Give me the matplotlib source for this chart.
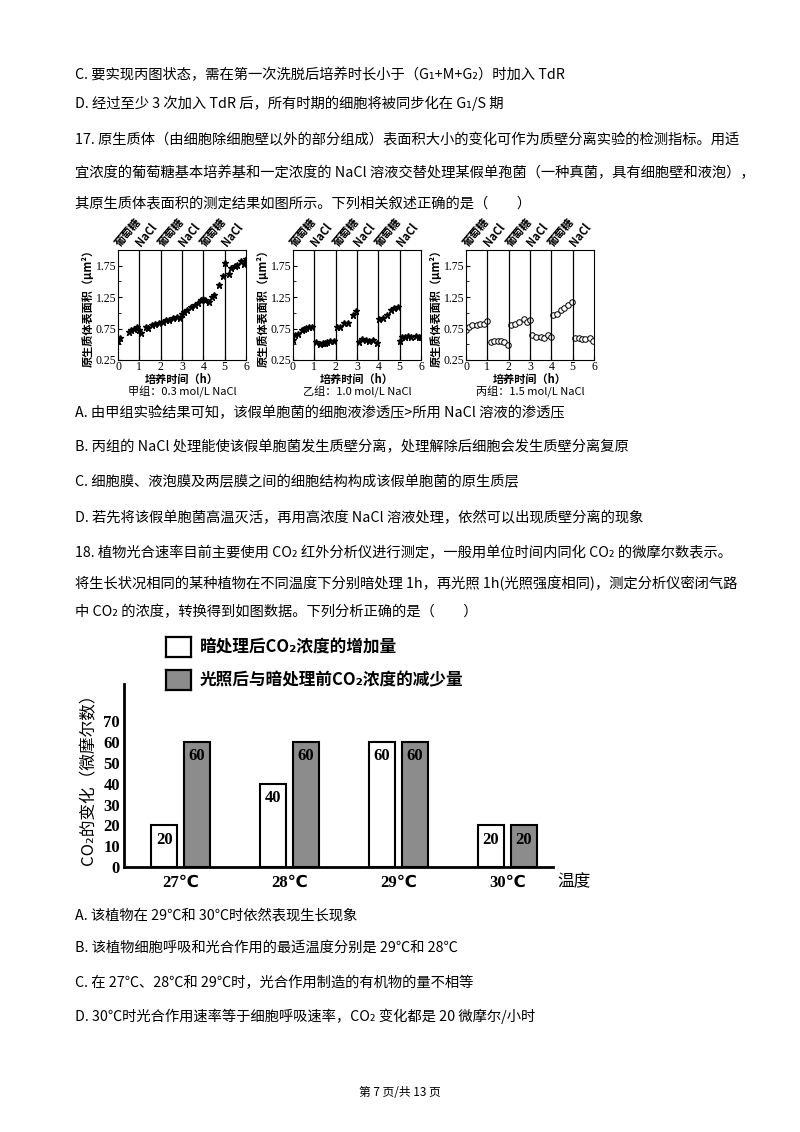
import matplotlib
matplotlib.use("Agg")
import matplotlib.pyplot as plt
import numpy as np

plt.rcParams['font.family'] = ['Noto Sans CJK SC', 'DejaVu Sans']

# ---- data: protoplast surface area (um^2) vs time (h) ----
t1 = [0, 0.1, 0.5, 0.6, 0.75, 0.9, 1.0, 1.1, 1.3, 1.4, 1.6, 1.75, 1.9, 2.1, 2.25, 2.4, 2.6, 2.75, 2.9,
      3.0, 3.1, 3.25, 3.4, 3.6, 3.75, 3.9, 4.0, 4.1, 4.25, 4.4, 4.5, 4.75, 4.9, 5.0, 5.2, 5.3, 5.5, 5.6,
      5.75, 5.9, 6.0]
a1 = [0.55, 0.6, 0.7, 0.72, 0.75, 0.77, 0.73, 0.68, 0.77, 0.76, 0.8, 0.82, 0.84, 0.86, 0.88, 0.88, 0.92,
      0.94, 0.92, 0.98, 1.02, 1.05, 1.1, 1.12, 1.15, 1.2, 1.22, 1.2, 1.18, 1.25, 1.28, 1.45, 1.58, 1.8,
      1.62, 1.72, 1.74, 1.76, 1.82, 1.78, 1.85]
t2 = [0, 0.1, 0.25, 0.4, 0.5, 0.6, 0.75, 0.9, 1.1, 1.25, 1.4, 1.5, 1.6, 1.75, 1.9, 2.05, 2.2, 2.4, 2.6,
      2.8, 2.95, 3.1, 3.25, 3.4, 3.55, 3.75, 3.95, 4.05, 4.2, 4.4, 4.6, 4.75, 4.9, 5.0, 5.1, 5.25, 5.4,
      5.55, 5.75, 5.9, 6.0]
a2 = [0.57, 0.65, 0.67, 0.73, 0.74, 0.76, 0.78, 0.78, 0.53, 0.5, 0.52, 0.52, 0.53, 0.56, 0.55, 0.78,
      0.77, 0.84, 0.84, 0.97, 1.03, 0.54, 0.58, 0.57, 0.56, 0.57, 0.52, 0.9, 0.92, 0.97, 1.05, 1.08,
      1.1, 0.56, 0.62, 0.62, 0.63, 0.62, 0.63, 0.62, 0.62]
t3 = [0, 0.15, 0.3, 0.5, 0.65, 0.85, 1.0, 1.15, 1.3, 1.5, 1.65, 1.8, 1.95, 2.1, 2.3, 2.5, 2.7, 2.85, 3.0,
      3.1, 3.3, 3.5, 3.65, 3.85, 4.0, 4.1, 4.25, 4.45, 4.6, 4.8, 4.95, 5.1, 5.3, 5.45, 5.6, 5.8, 5.95]
a3 = [0.72, 0.77, 0.8, 0.8, 0.82, 0.82, 0.87, 0.54, 0.56, 0.56, 0.55, 0.53, 0.49, 0.8, 0.82, 0.85, 0.9,
      0.86, 0.88, 0.65, 0.62, 0.61, 0.6, 0.64, 0.62, 0.97, 0.98, 1.05, 1.08, 1.13, 1.17, 0.6, 0.6, 0.59,
      0.59, 0.6, 0.56]
stages = ["葡萄糖", "NaCl", "葡萄糖", "NaCl", "葡萄糖", "NaCl"]
groups = ["甲组：0.3 mol/L NaCl", "乙组：1.0 mol/L NaCl", "丙组：1.5 mol/L NaCl"]

# ---- data: CO2 bar chart ----
temps = ["27℃", "28℃", "29℃", "30℃"]
dark = [20, 40, 60, 20]
light = [60, 60, 60, 20]

W, H = 800, 1132
fig = plt.figure(figsize=(8, 11.32), dpi=100)


def px(x, y, w, h):
    return [x / W, 1 - (y + h) / H, w / W, h / H]


def line(x, y, s, size=10.3):
    fig.text(x / W, 1 - y / H, s, fontsize=size, va='center', ha='left')


line(75, 75, "C. 要实现丙图状态，需在第一次洗脱后培养时长小于（G₁+M+G₂）时加入 TdR")
line(75, 103, "D. 经过至少 3 次加入 TdR 后，所有时期的细胞将被同步化在 G₁/S 期")
line(75, 140, "17. 原生质体（由细胞除细胞壁以外的部分组成）表面积大小的变化可作为质壁分离实验的检测指标。用适")
line(75, 173, "宜浓度的葡萄糖基本培养基和一定浓度的 NaCl 溶液交替处理某假单孢菌（一种真菌，具有细胞壁和液泡），")
line(75, 203, "其原生质体表面积的测定结果如图所示。下列相关叙述正确的是（　　）")

lefts = [118, 293, 466]
series = [(t1, a1, '*'), (t2, a2, '*'), (t3, a3, 'o')]
for left, (t, a, m), g in zip(lefts, series, groups):
    ax = fig.add_axes(px(left, 250, 128, 110))
    if m == 'o':
        ax.plot(t, a, 'o', ms=4, mfc='white', mec='black', mew=0.7)
    else:
        ax.plot(t, a, '*', ms=4.5, color='black')
    for i in range(1, 6):
        ax.axvline(i, color='black', lw=0.9)
    ax.set_xlim(0, 6)
    ax.set_ylim(0.25, 2.0)
    ax.set_xticks(range(7))
    ax.set_yticks([0.25, 0.75, 1.25, 1.75])
    ax.set_yticklabels(["0.25", "0.75", "1.25", "1.75"], family='Liberation Serif')
    ax.set_xticklabels([str(i) for i in range(7)], family='Liberation Serif')
    ax.set_yticks([0.5, 1.0, 1.5], minor=True)
    ax.tick_params(direction='in', labelsize=8.5, length=3, pad=1)
    ax.tick_params(which='minor', direction='in', length=2)
    ax.set_xlabel("培养时间（h）", fontsize=8, labelpad=0, fontweight='bold')
    ax.set_ylabel("原生质体表面积（μm²）", fontsize=8, labelpad=1, fontweight='bold')
    for i, s in enumerate(stages):
        ax.text(i + 0.2, 1.01, s, transform=ax.get_xaxis_transform(), rotation=50,
                ha='left', va='bottom', fontsize=8, fontweight='bold', rotation_mode='anchor')
    fig.text((left + 64) / W, 1 - 392 / H, g, ha='center', va='center', fontsize=8)

line(75, 413, "A. 由甲组实验结果可知，该假单胞菌的细胞液渗透压>所用 NaCl 溶液的渗透压")
line(75, 447, "B. 丙组的 NaCl 处理能使该假单胞菌发生质壁分离，处理解除后细胞会发生质壁分离复原")
line(75, 482, "C. 细胞膜、液泡膜及两层膜之间的细胞结构构成该假单胞菌的原生质层")
line(75, 518, "D. 若先将该假单胞菌高温灭活，再用高浓度 NaCl 溶液处理，依然可以出现质壁分离的现象")
line(75, 553, "18. 植物光合速率目前主要使用 CO₂ 红外分析仪进行测定，一般用单位时间内同化 CO₂ 的微摩尔数表示。")
line(75, 584, "将生长状况相同的某种植物在不同温度下分别暗处理 1h，再光照 1h(光照强度相同)，测定分析仪密闭气路")
line(75, 612, "中 CO₂ 的浓度，转换得到如图数据。下列分析正确的是（　　）")

# bar chart
ax = fig.add_axes(px(124, 684, 429, 183))
x = np.arange(len(temps))
bw = 0.24
b1 = ax.bar(x - 0.15, dark, bw, color='white', edgecolor='black', lw=1.5)
b2 = ax.bar(x + 0.15, light, bw, color='#8c8c8c', edgecolor='black', lw=1.5)
for bars, vals in ((b1, dark), (b2, light)):
    for b, v in zip(bars, vals):
        ax.text(b.get_x() + b.get_width() / 2, v - 3, str(v), ha='center', va='top',
                fontsize=12, family='Liberation Serif', fontweight='bold')
ax.set_xlim(-0.52, 3.42)
ax.set_ylim(0, 88)
ax.set_yticks(range(0, 80, 10))
ax.set_xticks(x)
ax.set_xticklabels(temps, fontsize=12, fontweight='bold', family=['Liberation Serif', 'DejaVu Sans'])
ax.tick_params(axis='y', labelsize=12, length=0, pad=3)
ax.tick_params(axis='x', length=0, pad=6)
for lbl in ax.get_yticklabels():
    lbl.set_family('Liberation Serif')
    lbl.set_fontweight('bold')
for s in ('top', 'right'):
    ax.spines[s].set_visible(False)
ax.spines['left'].set_linewidth(2)
ax.spines['bottom'].set_linewidth(2)
ax.set_ylabel("CO₂的变化（微摩尔数）", fontsize=12, labelpad=4)
ax.text(1.01, -0.08, "温度", transform=ax.transAxes, fontsize=12, ha='left', va='center')

# legend boxes
for yy, fc, s in ((637, 'white', "暗处理后CO₂浓度的增加量"), (670, '#8c8c8c', "光照后与暗处理前CO₂浓度的减少量")):
    lax = fig.add_axes(px(166, yy, 25, 20))
    lax.set_facecolor(fc)
    lax.set_xticks([]); lax.set_yticks([])
    for sp in lax.spines.values():
        sp.set_linewidth(1.6)
    fig.text(200 / W, 1 - (yy + 10) / H, s, fontsize=12, va='center', ha='left', fontweight='bold')

line(75, 915, "A. 该植物在 29℃和 30℃时依然表现生长现象")
line(75, 948, "B. 该植物细胞呼吸和光合作用的最适温度分别是 29℃和 28℃")
line(75, 983, "C. 在 27℃、28℃和 29℃时，光合作用制造的有机物的量不相等")
line(75, 1016, "D. 30℃时光合作用速率等于细胞呼吸速率，CO₂ 变化都是 20 微摩尔/小时")
fig.text(0.5, 1 - 1093 / H, "第 7 页/共 13 页", fontsize=8.5, ha='center', va='center')

fig.savefig("out.png", dpi=100)
